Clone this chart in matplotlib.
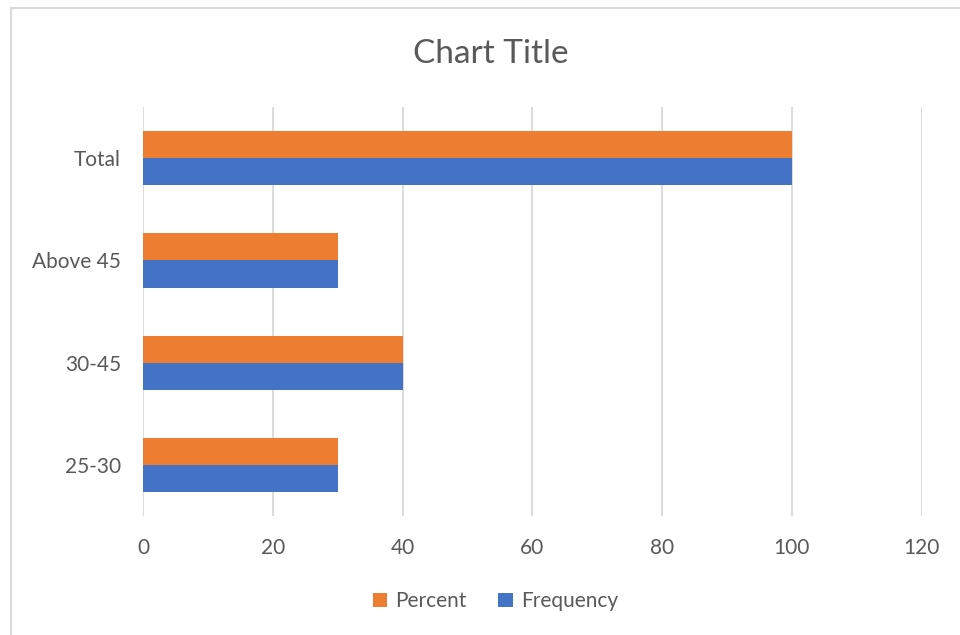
import numpy as np
import matplotlib.pyplot as plt
import matplotlib.patches as mpatches

plt.rcParams['font.family'] = ['Lato', 'DejaVu Sans']

# ── data ──
categories = ["25-30", "30-45", "Above 45", "Total"]
percent = [30, 40, 30, 100]
frequency = [30, 40, 30, 100]

ORANGE = "#ED7D31"
BLUE = "#4472C4"
TEXT = "#595959"
GRID = "#D9D9D9"

fig = plt.figure(figsize=(9.6, 6.35), dpi=100)
ax = fig.add_axes([0.149, 0.187, 0.811, 0.6445])

y = np.arange(len(categories))
h = 0.265
ax.barh(y + h / 2, percent, height=h, color=ORANGE, label="Percent", zorder=2)
ax.barh(y - h / 2, frequency, height=h, color=BLUE, label="Frequency", zorder=2)

ax.set_xlim(0, 120)
ax.set_ylim(-0.5, len(categories) - 0.5)
ax.set_xticks(np.arange(0, 121, 20))
ax.set_yticks(y)
ax.set_yticklabels(categories)
ax.tick_params(axis="both", length=0, labelsize=15, colors=TEXT)
ax.tick_params(axis="x", pad=16)
ax.tick_params(axis="y", pad=16)

ax.xaxis.grid(True, color=GRID, linewidth=1.3)
ax.yaxis.grid(False)
ax.set_axisbelow(True)
for s in ax.spines.values():
    s.set_visible(False)

fig.text(0.511, 0.915, "Chart Title", ha="center", va="center",
         fontsize=24, color=TEXT)

handles = [mpatches.Patch(facecolor=ORANGE, label="Percent"),
           mpatches.Patch(facecolor=BLUE, label="Frequency")]
leg = fig.legend(handles=handles, loc="center", bbox_to_anchor=(0.516, 0.053),
                 ncol=2, frameon=False, fontsize=15, handlelength=0.7,
                 handleheight=0.7, handletextpad=0.4, columnspacing=1.5)
for t in leg.get_texts():
    t.set_color(TEXT)

# chart area border (only left/top visible)
fig.patches.append(mpatches.Rectangle((11 / 960, -0.05), 1.2, 1 - 8 / 635 + 0.05,
                                      transform=fig.transFigure, fill=False,
                                      edgecolor="#D9D9D9", linewidth=1.5))

fig.savefig("out.png", dpi=100, facecolor="white")
